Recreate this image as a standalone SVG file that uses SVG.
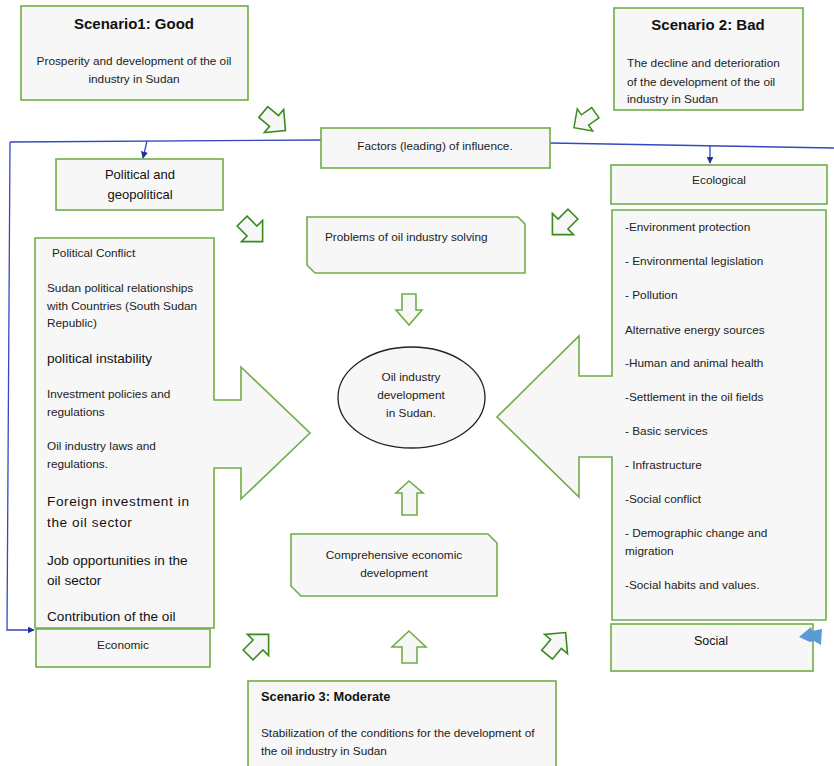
<svg xmlns="http://www.w3.org/2000/svg" xmlns:xlink="http://www.w3.org/1999/xlink" width="834" height="766" viewBox="0 0 834 766">
<style>
.box{fill:#f7f7f7;stroke:#70ad47;stroke-width:1.6}
.t{font-family:"Liberation Sans",Arial,sans-serif;font-size:11.8px;fill:#222}
.m{font-family:"Liberation Sans",Arial,sans-serif;font-size:13.6px;fill:#111}
.b{font-family:"Liberation Sans",Arial,sans-serif;font-size:15px;font-weight:bold;fill:#111}
.bs{font-family:"Liberation Sans",Arial,sans-serif;font-size:12.8px;font-weight:bold;fill:#111}
.c{text-anchor:middle}
.blue{fill:none;stroke:#3548c0;stroke-width:1.3}
.ba{fill:#f7f7f7;stroke:#3a8a1e;stroke-width:1.6}
</style>
<defs>
<path id="blk" d="M-14,-7 L0,-7 L0,-15 L15,0 L0,15 L0,7 L-14,7 Z"/>
<marker id="ah" viewBox="0 0 10 10" refX="9" refY="5" markerWidth="7" markerHeight="7" markerUnits="userSpaceOnUse" orient="auto"><path d="M0,0 L10,5 L0,10 Z" fill="#1f2fa8"/></marker>
</defs>

<g id="connectors">
<path class="blue" d="M10,142 L321,140"/>
<path class="blue" d="M550,143 L834,148"/>
<path class="blue" d="M10,142 L7,630 L34,630" marker-end="url(#ah)"/>
<path class="blue" d="M147,141 L143,158" marker-end="url(#ah)"/>
<path class="blue" d="M710,145 L710,163" marker-end="url(#ah)"/>
<use href="#blk" class="ba" transform="translate(274,121) rotate(40)"/>
<use href="#blk" class="ba" transform="translate(585,120) rotate(145) scale(0.9)"/>
<use href="#blk" class="ba" transform="translate(252,231) rotate(45)"/>
<use href="#blk" class="ba" transform="translate(563,224) rotate(135)"/>
<use href="#blk" class="ba" transform="translate(258,645) rotate(-45)"/>
<use href="#blk" class="ba" transform="translate(556,644) rotate(-50)"/>
<path class="box" d="M402,294 L416,294 L416,310 L422,310 L409,325 L396,310 L402,310 Z"/>
<path class="box" d="M402,515 L417,515 L417,493 L423,493 L409,481 L396,493 L402,493 Z"/>
<path class="box" d="M402,663 L417,663 L417,647 L426,647 L409,631 L392,647 L402,647 Z"/>
</g>

<g id="scenario1">
<rect class="box" x="21" y="6" width="227" height="94"/>
<text class="b c" x="134" y="29">Scenario1: Good</text>
<text class="t c" x="134" y="65">Prosperity and development of the oil</text>
<text class="t c" x="134" y="83">industry in Sudan</text>
</g>

<g id="scenario2">
<rect class="box" x="614" y="8" width="189" height="102"/>
<text class="b c" x="708" y="30">Scenario 2:  Bad</text>
<text class="t" x="627" y="67">The decline and deterioration</text>
<text class="t" x="627" y="86">of the development of the oil</text>
<text class="t" x="627" y="103">industry in Sudan</text>
</g>

<g id="factors">
<rect class="box" x="321" y="128" width="229" height="40"/>
<text class="t c" x="435" y="150">Factors (leading) of influence.</text>
</g>

<g id="political">
<rect class="box" x="56" y="159" width="167" height="51"/>
<text class="m c" x="140" y="179" style="font-size:13px">Political and</text>
<text class="m c" x="140" y="199" style="font-size:13px">geopolitical</text>
</g>

<g id="ecological">
<rect class="box" x="611" y="165" width="216" height="39"/>
<text class="t c" x="719" y="184">Ecological</text>
</g>

<g id="political-economic-factors">
<path class="box" d="M35,238 L214,238 L214,400 L241,400 L241,367 L310,433 L241,499 L241,468 L214,468 L214,628 L35,628 Z"/>
<text class="t" x="52" y="257">Political Conflict</text>
<text class="t" x="47" y="292">Sudan political relationships</text>
<text class="t" x="47" y="310">with Countries (South Sudan</text>
<text class="t" x="47" y="327">Republic)</text>
<text class="m" x="47" y="363">political instability</text>
<text class="t" x="47" y="398">Investment policies and</text>
<text class="t" x="47" y="416">regulations</text>
<text class="t" x="47" y="450">Oil industry laws and</text>
<text class="t" x="47" y="468">regulations.</text>
<text class="m" x="47" y="506" letter-spacing="0.6">Foreign investment in</text>
<text class="m" x="47" y="527" letter-spacing="0.6">the oil sector</text>
<text class="m" x="47" y="565">Job opportunities in the</text>
<text class="m" x="47" y="585">oil sector</text>
<text class="m" x="47" y="621">Contribution of the oil</text>
</g>

<g id="economic">
<rect class="box" x="36" y="629" width="174" height="38"/>
<text class="t c" x="123" y="649">Economic</text>
</g>

<g id="ecological-social-factors">
<path class="box" d="M612,210 L826,210 L826,620 L612,620 L612,457 L579,457 L579,497 L497,417 L579,336 L579,376 L612,376 Z"/>
<text class="t" x="625" y="231">-Environment protection</text>
<text class="t" x="625" y="265">- Environmental legislation</text>
<text class="t" x="625" y="299">- Pollution</text>
<text class="t" x="625" y="334">Alternative energy sources</text>
<text class="t" x="625" y="367">-Human and animal health</text>
<text class="t" x="625" y="401">-Settlement in the oil fields</text>
<text class="t" x="625" y="435">- Basic services</text>
<text class="t" x="625" y="469">-  Infrastructure</text>
<text class="t" x="625" y="503">-Social conflict</text>
<text class="t" x="625" y="537">- Demographic change and</text>
<text class="t" x="625" y="555">migration</text>
<text class="t" x="625" y="589">-Social habits and values.</text>
</g>

<g id="social">
<rect class="box" x="611" y="624" width="202" height="47"/>
<text class="m c" x="711" y="645" style="font-size:12.5px">Social</text>
</g>

<g id="social-pointer">
<path d="M799,637 L811,627 L812,631 L822,629 L821,645 L814,641 L810,642 Z" fill="#5b9bd5"/>
</g>

<g id="problems">
<path class="box" d="M307,217 L518,217 L525,224 L525,273 L315,273 L307,265 Z"/>
<text class="t" x="325" y="241">Problems of oil industry solving</text>
</g>

<g id="center">
<ellipse cx="411.5" cy="397.5" rx="73.5" ry="50.5" fill="#f7f7f7" stroke="#222" stroke-width="1.3"/>
<text class="t c" x="411" y="381">Oil industry</text>
<text class="t c" x="411" y="399">development</text>
<text class="t c" x="411" y="417">in Sudan.</text>
</g>

<g id="comprehensive">
<path class="box" d="M291,534 L488,534 L497,543 L497,596 L301,596 L291,586 Z"/>
<text class="t c" x="394" y="559">Comprehensive economic</text>
<text class="t c" x="394" y="577">development</text>
</g>

<g id="scenario3">
<rect class="box" x="248" y="681" width="308" height="86"/>
<text class="bs" x="261" y="701">Scenario 3: Moderate</text>
<text class="t" x="261" y="737">Stabilization of the conditions for the development of</text>
<text class="t" x="261" y="755">the oil industry in Sudan</text>
</g>
</svg>
